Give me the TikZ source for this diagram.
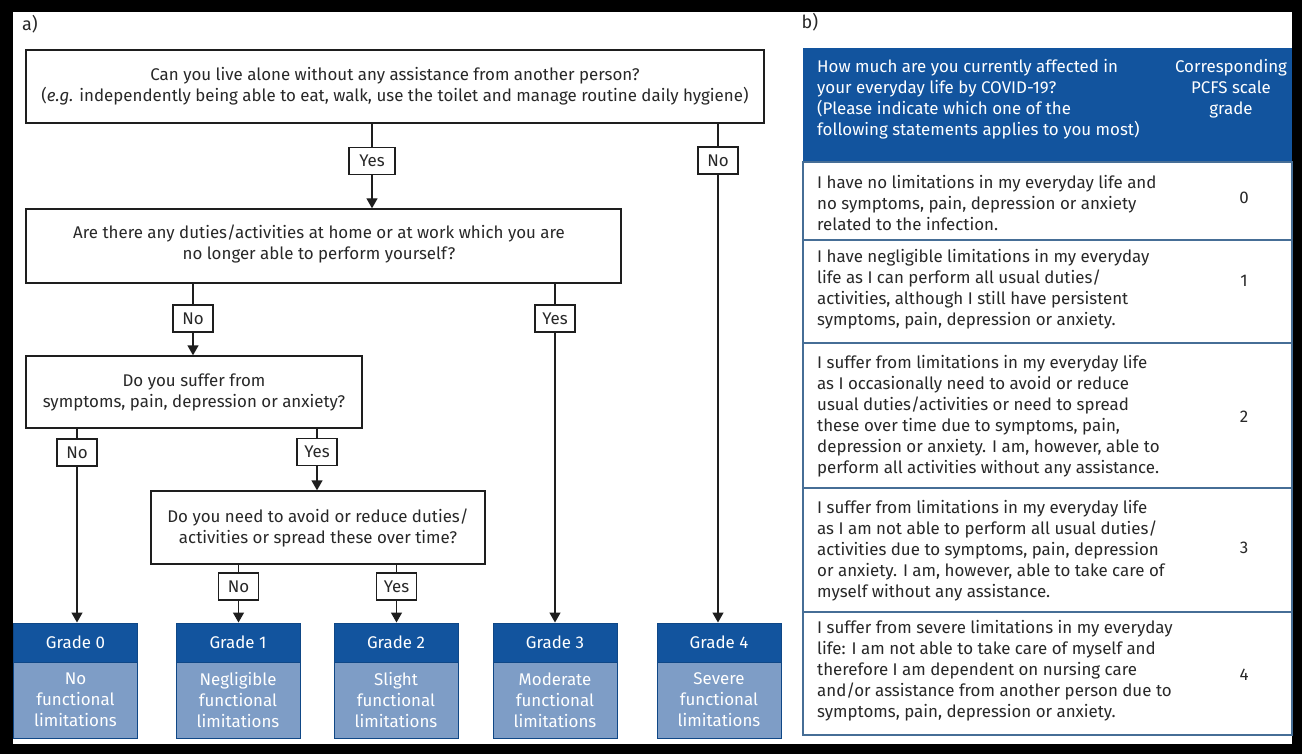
\documentclass[tikz,border=0pt]{standalone}
\usepackage{fontspec}
\setmainfont{Fira Sans}
\usetikzlibrary{arrows.meta}
\definecolor{dblue}{RGB}{18,84,158}
\definecolor{lblue}{RGB}{126,157,198}
\definecolor{tline}{RGB}{70,110,150}
\definecolor{ink}{RGB}{30,30,30}
\definecolor{txt}{RGB}{40,40,40}
\newcommand{\fs}{\fontsize{16.9}{21}\selectfont}
\begin{document}
\begin{tikzpicture}[x=1pt,y=-1pt,
  qbox/.style={draw=ink, line width=1.4pt, fill=white, align=center, font=\fs, text=txt, inner sep=0pt},
  lbl/.style={draw=ink, line width=1.2pt, fill=white, font=\fs, text=txt, minimum width=40pt, minimum height=27pt, inner sep=2pt},
  conn/.style={draw=ink, line width=1.4pt},
  arr/.style={draw=ink, line width=1.4pt, -{Triangle[width=11pt,length=10pt]}},
  ghead/.style={draw=dblue!85!black, line width=1pt, fill=dblue, text=white, font=\fs, minimum width=124pt, minimum height=39pt, inner sep=0pt},
  gbody/.style={draw=dblue!85!black, line width=1pt, fill=lblue, text=white, font=\fs, align=center, minimum width=124pt, minimum height=76pt, inner sep=0pt},
  ttext/.style={font=\fs, text=txt, align=left, anchor=west, inner sep=0pt},
  tnum/.style={font=\fs, text=txt, inner sep=0pt},
  panel/.style={font=\fontsize{18}{21}\selectfont, text=txt, inner sep=0pt}
]
\useasboundingbox (0,0) rectangle (1302,754);
\fill[black] (0,0) rectangle (1302,754);
\fill[white] (13,12) rectangle (1292,744);

% panel labels
\node[panel] (pa) at (30,24) {a)};
\node[panel] (pb) at (810,22) {b)};

% questions
\node[qbox, minimum width=738pt, minimum height=73pt] (q1) at (395,86.5)
  {Can you live alone without any assistance from another person?\\(\textit{e.g.} independently being able to eat, walk, use the toilet and manage routine daily hygiene)};
\node[qbox, minimum width=595pt, minimum height=74pt] (q2) at (323.5,246) {};
\node[font=\fs, text=txt, align=center, inner sep=0pt] (q2t) at (319,244)
  {Are there any duties/activities at home or at work which you are\\no longer able to perform yourself?};
\node[qbox, minimum width=336pt, minimum height=72pt] (q3) at (194,392)
  {Do you suffer from\\symptoms, pain, depression or anxiety?};
\node[qbox, minimum width=334pt, minimum height=73pt] (q4) at (318,527.5)
  {Do you need to avoid or reduce duties/\\activities or spread these over time?};

% labels
\node[lbl, minimum width=46pt] (y1) at (372,161) {Yes};
\node[lbl] (n1) at (718,160.5) {No};
\node[lbl] (n2) at (193,318.5) {No};
\node[lbl] (y2) at (555,318.5) {Yes};
\node[lbl] (n3) at (77,452.5) {No};
\node[lbl] (y3) at (317,452) {Yes};
\node[lbl] (n4) at (238.5,586.5) {No};
\node[lbl] (y4) at (396.5,586.5) {Yes};

% grades
\foreach \i/\x/\t in {0/75.5/{No\\functional\\limitations},1/238/{Negligible\\functional\\limitations},2/396/{Slight\\functional\\limitations},3/555/{Moderate\\functional\\limitations},4/719/{Severe\\functional\\limitations}}{
  \node[ghead] (gh\i) at (\x,642.5) {Grade \i};
  \node[gbody] (gb\i) at (\x,700) {\t};
}

% connectors
\draw[conn] (q1.south -| y1.north) -- (y1.north);
\draw[arr] (y1.south) -- (q2.north -| y1.south);
\draw[conn] (q1.south -| n1.north) -- (n1.north);
\draw[arr] (n1.south) -- (gh4.north -| n1.south);
\draw[conn] (q2.south -| n2.north) -- (n2.north);
\draw[arr] (n2.south) -- (q3.north -| n2.south);
\draw[conn] (q2.south -| y2.north) -- (y2.north);
\draw[arr] (y2.south) -- (gh3.north -| y2.south);
\draw[conn] (q3.south -| n3.north) -- (n3.north);
\draw[arr] (n3.south) -- (gh0.north -| n3.south);
\draw[conn] (q3.south -| y3.north) -- (y3.north);
\draw[arr] (y3.south) -- (q4.north -| y3.south);
\draw[conn] (q4.south -| n4.north) -- (n4.north);
\draw[arr] (n4.south) -- (gh1.north -| n4.south);
\draw[conn] (q4.south -| y4.north) -- (y4.north);
\draw[arr] (y4.south) -- (gh2.north -| y4.south);

% table
\fill[dblue] (803,48) rectangle (1292,162);
\draw[tline, line width=1.4pt] (803,162) rectangle (1292,240);
\draw[tline, line width=1.4pt] (803,240) rectangle (1292,343);
\draw[tline, line width=1.4pt] (803,343) rectangle (1292,488);
\draw[tline, line width=1.4pt] (803,488) rectangle (1292,612);
\draw[tline, line width=1.4pt] (803,612) rectangle (1292,735);

\node[ttext, text=white] (th1) at (817,99.5) {How much are you currently affected in\\your everyday life by COVID-19?\\(Please indicate which one of the\\following statements applies to you most)};
\node[tnum, text=white, align=center] (th2) at (1231,89) {Corresponding\\PCFS scale\\grade};

\node[ttext] (r0) at (817,203) {I have no limitations in my everyday life and\\no symptoms, pain, depression or anxiety\\related to the infection.};
\node[tnum] (v0) at (1244,198) {0};
\node[ttext] (r1) at (817,289.5) {I have negligible limitations in my everyday\\life as I can perform all usual duties/\\activities, although I still have persistent\\symptoms, pain, depression or anxiety.};
\node[tnum] (v1) at (1244,281) {1};
\node[ttext] (r2) at (817,416.5) {I suffer from limitations in my everyday life\\as I occasionally need to avoid or reduce\\usual duties/activities or need to spread\\these over time due to symptoms, pain,\\depression or anxiety. I am, however, able to\\perform all activities without any assistance.};
\node[tnum] (v2) at (1244,417) {2};
\node[ttext] (r3) at (817,551) {I suffer from limitations in my everyday life\\as I am not able to perform all usual duties/\\activities due to symptoms, pain, depression\\or anxiety. I am, however, able to take care of\\myself without any assistance.};
\node[tnum] (v3) at (1244,548) {3};
\node[ttext] (r4) at (817,671) {I suffer from severe limitations in my everyday\\life: I am not able to take care of myself and\\therefore I am dependent on nursing care\\and/or assistance from another person due to\\symptoms, pain, depression or anxiety.};
\node[tnum] (v4) at (1244,675) {4};
\end{tikzpicture}
\end{document}
